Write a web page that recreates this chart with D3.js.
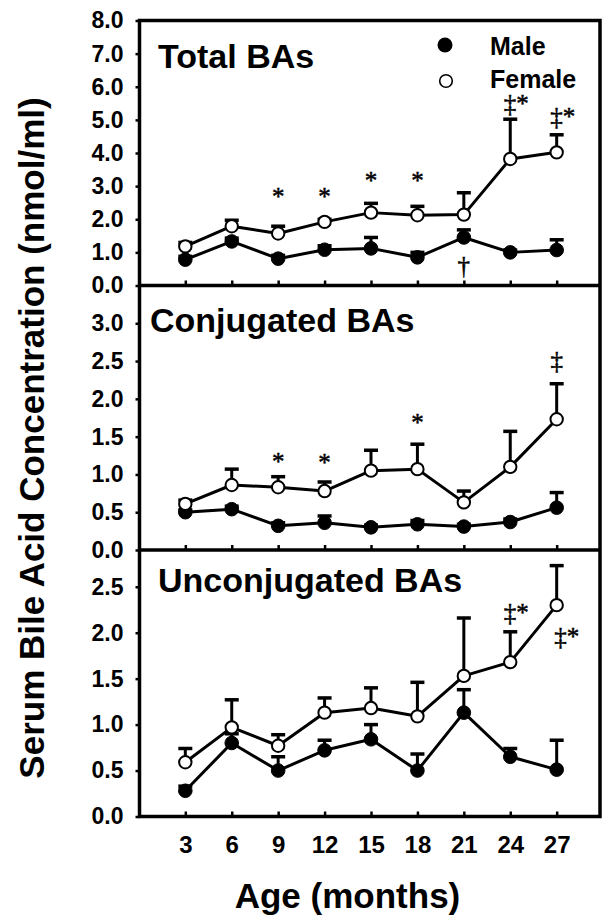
<!DOCTYPE html>
<html>
<head>
<meta charset="utf-8">
<script src="https://cdn.jsdelivr.net/npm/d3@7"></script>
<style>
  html, body { margin: 0; padding: 0; background: #fff; }
  svg { display: block; }
  text { font-family: "Liberation Sans", Arial, sans-serif; font-weight: bold; fill: #000; }
  .ann { font-family: "Liberation Serif", "Times New Roman", serif; font-weight: normal; stroke: #000; stroke-width: 0.5px; }
</style>
</head>
<body>
<svg id="chart" width="602" height="918"></svg>
<script>
// ---------------- DATA ----------------
const ages = [3, 6, 9, 12, 15, 18, 21, 24, 27];
const xTickLabels = ["3", "6", "9", "12", "15", "18", "21", "24", "27"];

const panelTitles = ["Total BAs", "Conjugated BAs", "Unconjugated BAs"];
const panelMax = [8, 3.5, 2.9];
const yTicksTotal = [0, 1, 2, 3, 4, 5, 6, 7, 8];
const yTicksConj = [0, 0.5, 1, 1.5, 2, 2.5, 3];
const yTicksUnconj = [0, 0.5, 1, 1.5, 2, 2.5];

// Total BAs
const totalMale = [0.78, 1.33, 0.81, 1.08, 1.12, 0.85, 1.45, 1.00, 1.07];
const totalMaleSE = [0.10, 0.10, 0.10, 0.12, 0.33, 0.15, 0.23, 0.07, 0.31];
const totalFemale = [1.18, 1.79, 1.57, 1.92, 2.20, 2.12, 2.14, 3.82, 4.02];
const totalFemaleSE = [0.12, 0.18, 0.22, 0.08, 0.28, 0.27, 0.66, 1.20, 0.53];

// Conjugated BAs
const conjMale = [0.50, 0.54, 0.32, 0.36, 0.30, 0.34, 0.31, 0.37, 0.56];
const conjMaleSE = [0.03, 0.04, 0.04, 0.09, 0.03, 0.05, 0.03, 0.04, 0.20];
const conjFemale = [0.61, 0.86, 0.83, 0.78, 1.05, 1.07, 0.63, 1.10, 1.73];
const conjFemaleSE = [0.05, 0.21, 0.14, 0.12, 0.27, 0.33, 0.15, 0.47, 0.47];

// Unconjugated BAs
const unconjMale = [0.28, 0.80, 0.50, 0.72, 0.84, 0.50, 1.13, 0.65, 0.51];
const unconjMaleSE = [0.05, 0.10, 0.15, 0.11, 0.16, 0.18, 0.25, 0.09, 0.32];
const unconjFemale = [0.59, 0.97, 0.77, 1.13, 1.18, 1.09, 1.53, 1.68, 2.30];
const unconjFemaleSE = [0.15, 0.30, 0.12, 0.16, 0.22, 0.37, 0.63, 0.33, 0.43];

// Significance marks: [panel, age, symbol, y-level (data units)]
const annPanel = [0, 0, 0, 0, 0, 0, 0, 1, 1, 1, 1, 2, 2];
const annAge   = [9, 12, 15, 18, 21, 24, 27, 9, 12, 18, 27, 24, 27];
const annText  = ["*", "*", "*", "*", "\u2020", "\u2021*", "\u2021*", "*", "*", "*", "\u2021", "\u2021*", "\u2021*"];
const annLevel = [2.44, 2.44, 2.91, 2.91, 0.35, 5.24, 4.85, 1.06, 1.04, 1.57, 2.39, 2.13, 1.87];

const legendLabels = ["Male", "Female"];
const xTitle = "Age (months)";
const yTitle = "Serum Bile Acid Concentration (nmol/ml)";

// ---------------- LAYOUT ----------------
const svg = d3.select("#chart");
const left = 139.5, right = 600;
const bounds = [[20.5, 285.5], [285.5, 550], [550, 816.5]];

const x = d3.scaleLinear().domain([0, 29.8]).range([138.9, 600]);

const panels = [
  { title: panelTitles[0], max: panelMax[0], ticks: yTicksTotal, male: totalMale, maleSE: totalMaleSE, female: totalFemale, femaleSE: totalFemaleSE, tx: 158, ty: 68 },
  { title: panelTitles[1], max: panelMax[1], ticks: yTicksConj, male: conjMale, maleSE: conjMaleSE, female: conjFemale, femaleSE: conjFemaleSE, tx: 150, ty: 332 },
  { title: panelTitles[2], max: panelMax[2], ticks: yTicksUnconj, male: unconjMale, maleSE: unconjMaleSE, female: unconjFemale, femaleSE: unconjFemaleSE, tx: 158, ty: 592 }
];

const ys = [];
panels.forEach((p, i) => {
  const [top, bottom] = bounds[i];
  const y = d3.scaleLinear().domain([0, p.max]).range([bottom, top]);
  ys.push(y);
  const g = svg.append("g");

  // y axis ticks & labels
  const yAxis = d3.axisLeft(y).tickValues(p.ticks).tickSize(4).tickPadding(12).tickFormat(d3.format(".1f"));
  const ya = svg.append("g").attr("transform", `translate(${left},0)`).call(yAxis);
  ya.select(".domain").remove();
  ya.selectAll(".tick line").attr("stroke", "#000").attr("stroke-width", 2.5);
  ya.selectAll(".tick text").style("font-size", "23px").attr("fill", "#000");

  // x ticks (inward)
  const xAxis = d3.axisBottom(x).tickValues(ages).tickSize(-5)
    .tickPadding(19).tickFormat((d, k) => i === 2 ? xTickLabels[k] : "");
  const xa = svg.append("g").attr("transform", `translate(0,${bottom})`).call(xAxis);
  xa.select(".domain").remove();
  xa.selectAll(".tick line").attr("stroke", "#000").attr("stroke-width", 2.5);
  xa.selectAll(".tick text").style("font-size", "24px").attr("fill", "#000");

  // panel title
  svg.append("text").attr("x", p.tx).attr("y", p.ty).style("font-size", "34px").text(p.title);

  const series = [
    { v: p.male, se: p.maleSE, fill: "#000" },
    { v: p.female, se: p.femaleSE, fill: "#fff" }
  ];

  // error bars (upper only)
  series.forEach(s => {
    const eg = g.append("g");
    eg.selectAll("line.stem").data(ages).join("line")
      .attr("x1", (d) => x(d)).attr("x2", (d) => x(d))
      .attr("y1", (d, k) => y(s.v[k])).attr("y2", (d, k) => y(s.v[k] + s.se[k]))
      .attr("stroke", "#000").attr("stroke-width", 3);
    eg.selectAll("line.cap").data(ages).join("line")
      .attr("x1", (d) => x(d) - 7).attr("x2", (d) => x(d) + 7)
      .attr("y1", (d, k) => y(s.v[k] + s.se[k])).attr("y2", (d, k) => y(s.v[k] + s.se[k]))
      .attr("stroke", "#000").attr("stroke-width", 3.5);
  });

  // lines
  series.forEach(s => {
    const line = d3.line().x((d) => x(d)).y((d, k) => y(s.v[k]));
    g.append("path").datum(ages).attr("d", line)
      .attr("fill", "none").attr("stroke", "#000").attr("stroke-width", 3).attr("stroke-linejoin", "round");
  });

  // markers
  series.forEach((s, si) => {
    g.append("g").selectAll("circle").data(ages).join("circle")
      .attr("cx", (d) => x(d)).attr("cy", (d, k) => y(s.v[k]))
      .attr("r", si === 0 ? 6.8 : 6.2)
      .attr("fill", s.fill).attr("stroke", "#000").attr("stroke-width", si === 0 ? 1 : 2);
  });
});

// annotations
annText.forEach((t, k) => {
  const dx = t.length > 1 ? (annPanel[k] === 2 && annAge[k] === 27 ? 10 : 6) : 0;
  svg.append("text").attr("class", "ann")
    .attr("x", x(annAge[k]) + dx).attr("y", ys[annPanel[k]](annLevel[k]))
    .attr("text-anchor", "middle").style("font-size", "25px").text(t);
});

// frame
svg.append("rect").attr("x", left).attr("y", bounds[0][0])
  .attr("width", right - left).attr("height", bounds[2][1] - bounds[0][0])
  .attr("fill", "none").attr("stroke", "#000").attr("stroke-width", 3.5);
[bounds[0][1], bounds[1][1]].forEach(yy => {
  svg.append("line").attr("x1", left).attr("x2", right).attr("y1", yy).attr("y2", yy)
    .attr("stroke", "#000").attr("stroke-width", 3.5);
});

// legend
const lg = svg.append("g");
lg.append("circle").attr("cx", 445).attr("cy", 45).attr("r", 7.5).attr("fill", "#000");
lg.append("circle").attr("cx", 446).attr("cy", 81).attr("r", 6.3).attr("fill", "#fff").attr("stroke", "#000").attr("stroke-width", 1.6);
lg.append("text").attr("x", 490).attr("y", 55).style("font-size", "25px").text(legendLabels[0]);
lg.append("text").attr("x", 490).attr("y", 88).style("font-size", "25px").text(legendLabels[1]);

// axis titles
svg.append("text").attr("x", 347.5).attr("y", 908).attr("text-anchor", "middle").style("font-size", "35px").text(xTitle);
svg.append("text").attr("transform", "translate(43.5,438) rotate(-90)").attr("text-anchor", "middle").style("font-size", "35px").text(yTitle);
</script>
</body>
</html>
